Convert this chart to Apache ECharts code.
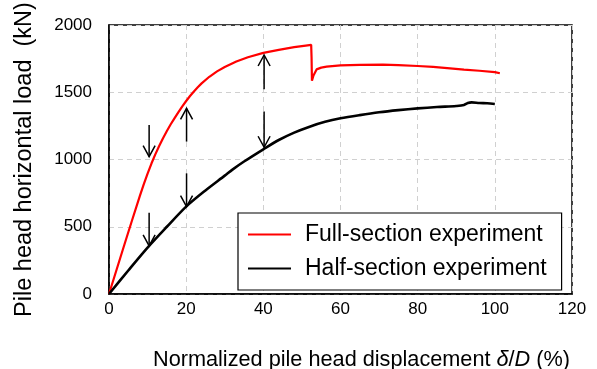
<!DOCTYPE html>
<html><head><meta charset="utf-8">
<script src="https://cdn.jsdelivr.net/npm/echarts@6/dist/echarts.min.js"></script>
<style>html,body{margin:0;padding:0;background:#fff}#c{width:597px;height:369px}</style>
</head><body><div id="c"></div>
<script>
// Full-section experiment: [δ/D %, load kN]
const fullSection = [[0,0],[2,184],[4,368],[6,550],[8,730],[9,815],[10,895],[11,970],[12,1038],[13,1100],[14,1158],[15,1212],[16,1262],[17,1308],[18,1352],[19,1395],[20,1435],[21,1472],[22,1506],[23,1537],[24,1566],[26,1615],[28,1655],[30,1688],[33,1728],[36,1760],[40,1793],[44,1815],[48,1835],[51,1847],[52.4,1852],[52.5,1760],[52.6,1586],[53.0,1625],[53.8,1670],[55,1683],[56.4,1690],[60,1700],[65,1703],[71,1705],[75,1701],[80,1695],[84,1688],[88.4,1678],[92,1668],[96,1660],[100,1650],[101.3,1641]];
// Half-section experiment
const halfSection = [[0,0],[5,175],[10,345],[15,500],[20,650],[25,770],[30,880],[32,925],[35,985],[40,1076],[44,1145],[48,1200],[52,1244],[56,1280],[60,1306],[65,1330],[70,1351],[75,1367],[80,1380],[85,1390],[90,1398],[92,1405],[93,1420],[94,1425],[96,1420],[98,1418],[100,1413]];
// Annotation arrows: [x, yFrom, yTo]
const arrows = [[10.4,1257,1021],[10.4,605,357],[20.1,1133,1380],[20.1,897,649],[40.2,1522,1777],[40.2,1356,1091]];
const xTicks = {min:0, max:120, interval:20};
const yTicks = {min:0, max:2000, interval:500};
const seriesNames = ['Full-section experiment','Half-section experiment'];

const font = 'Arial, "Liberation Sans", sans-serif';
const chart = echarts.init(document.getElementById('c'), null, {renderer:'canvas'});
chart.setOption({
  animation:false,
  backgroundColor:'#fff',
  grid:{left:109,right:25,top:25,bottom:75,show:true,borderColor:'#000',borderWidth:1.5,backgroundColor:'transparent',outerBoundsMode:'none'},
  xAxis:{type:'value',min:xTicks.min,max:xTicks.max,interval:xTicks.interval,
    name:'Normalized pile head displacement {i|δ}/{i|D} (%)',nameLocation:'middle',nameGap:55,
    nameTextStyle:{fontFamily:font,fontSize:21.7,color:'#000',padding:[0,0,0,42],rich:{i:{fontFamily:font,fontSize:21.7,fontStyle:'italic',color:'#000'}}},
    axisLine:{lineStyle:{color:'#000',width:1.5}},axisTick:{show:false},
    axisLabel:{fontFamily:font,fontSize:17,color:'#000',margin:7},
    splitLine:{show:true,lineStyle:{color:'#d0d0d0',type:[5,4],width:1}}},
  yAxis:{type:'value',min:yTicks.min,max:yTicks.max,interval:yTicks.interval,
    name:'Pile head horizontal load  (kN)',nameLocation:'middle',nameGap:72,
    nameTextStyle:{fontFamily:font,fontSize:23.5,color:'#000'},
    axisLine:{show:true,lineStyle:{color:'#000',width:1.5}},axisTick:{show:false},
    axisLabel:{fontFamily:font,fontSize:17,color:'#000',margin:17,formatter:function(v){return String(v);}},
    splitLine:{show:true,lineStyle:{color:'#d0d0d0',type:[5,4],width:1}}},
  legend:{data:seriesNames,orient:'vertical',left:238,top:213,
    padding:[10,15,10,10],itemGap:11,itemWidth:43,itemHeight:2,icon:'rect',
    borderColor:'#000',borderWidth:1.2,backgroundColor:'#fff',
    textStyle:{fontFamily:font,fontSize:23,color:'#000',lineHeight:22,padding:[0,0,0,9]}},
  series:[
    {name:seriesNames[0],type:'line',data:fullSection,showSymbol:false,symbol:'none',
     lineStyle:{color:'#ff0000',width:2.2},itemStyle:{color:'#ff0000'},z:3},
    {name:seriesNames[1],type:'line',data:halfSection,showSymbol:false,symbol:'none',smooth:0.3,
     lineStyle:{color:'#000',width:2.6},itemStyle:{color:'#000'},z:3},
    {type:'custom',data:arrows,silent:true,z:4,
     renderItem:function(params,api){
       const x=api.value(0),y0=api.value(1),y1=api.value(2);
       const a=api.coord([x,y0]),b=api.coord([x,y1]);
       const dir = b[1]>a[1]?1:-1;
       const hl=11,hw=6;
       const st={stroke:'#000',lineWidth:1.5,fill:null};
       return {type:'group',children:[
         {type:'line',shape:{x1:a[0],y1:a[1],x2:b[0],y2:b[1]},style:st},
         {type:'polyline',shape:{points:[[b[0]-hw,b[1]-dir*hl],[b[0],b[1]],[b[0]+hw,b[1]-dir*hl]]},style:st}
       ]};
     }}
  ]
});
</script></body></html>
